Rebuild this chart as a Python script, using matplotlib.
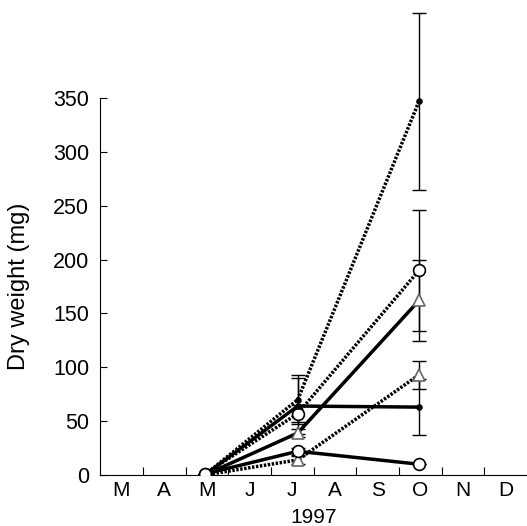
import numpy as np
import matplotlib.pyplot as plt

plt.rcParams['font.family'] = ['Liberation Sans', 'DejaVu Sans']

# sampling dates, in months counted from 1 March 1997
dates = [2.45, 4.63, 7.47]

months = ['M', 'A', 'M', 'J', 'J', 'A', 'S', 'O', 'N', 'D']

# solid lines
solid_dot = [0, 64, 63]
solid_dot_err = [0, 26, 26]
solid_tri = [0, 39, 162]
solid_tri_err = [0, 4, 38]
solid_circ = [1, 22, 10]
solid_circ_err = [0, 3, 0]

# dotted lines
dotted_dot = [0, 70, 347]
dotted_dot_err = [0, 23, 82]
dotted_circ = [1, 57, 190]
dotted_circ_err = [0, 8, 56]
dotted_tri = [0, 14, 93]
dotted_tri_err = [0, 4, 13]

fig = plt.figure(figsize=(5.27, 5.26), dpi=100)
ax = fig.add_axes([0.19, 0.097, 0.81, 0.901])

dots = (0, (0.7, 0.45))
series = [
    (dotted_dot, dotted_dot_err, dots, 'o', 'black', 3.5),
    (dotted_circ, dotted_circ_err, dots, 'o', 'white', 8.5),
    (dotted_tri, dotted_tri_err, dots, '^', 'white', 9),
    (solid_dot, solid_dot_err, '-', 'o', 'black', 3.5),
    (solid_tri, solid_tri_err, '-', '^', 'white', 9),
    (solid_circ, solid_circ_err, '-', 'o', 'white', 8.5),
]

for vals, err, ls, mk, fc, ms in series:
    ax.errorbar(dates, vals, yerr=err, fmt='none', ecolor='black',
                elinewidth=1, capsize=5, capthick=1, zorder=2)
    ax.plot(dates, vals, linestyle=ls, color='black', lw=2.5, zorder=3)
    ec = '#666666' if mk == '^' else 'black'
    ax.plot(dates, vals, linestyle='none', marker=mk, ms=ms,
            markerfacecolor=fc, markeredgecolor=ec, mew=1.2, zorder=4)

ax.set_xlim(0, 10)
ax.set_ylim(0, 440)
ax.spines['top'].set_visible(False)
ax.spines['right'].set_visible(False)
ax.spines['left'].set_bounds(0, 350)

ax.set_yticks(np.arange(0, 351, 50))
ax.set_xticks(np.arange(1, 10))
ax.set_xticks(np.arange(10) + 0.5, minor=True)
ax.set_xticklabels([])
ax.set_xticklabels(months, minor=True)
ax.tick_params(axis='x', which='major', direction='in', length=6)
ax.tick_params(axis='x', which='minor', length=0, labelsize=15, pad=4)
ax.tick_params(axis='y', direction='in', length=5, labelsize=15.5, pad=8)

ax.set_ylabel('Dry weight (mg)', fontsize=17, labelpad=12)
ax.yaxis.set_label_coords(-0.165, 175 / 440)
ax.set_xlabel('1997', fontsize=15, labelpad=6)

fig.savefig('out.png', dpi=100)
